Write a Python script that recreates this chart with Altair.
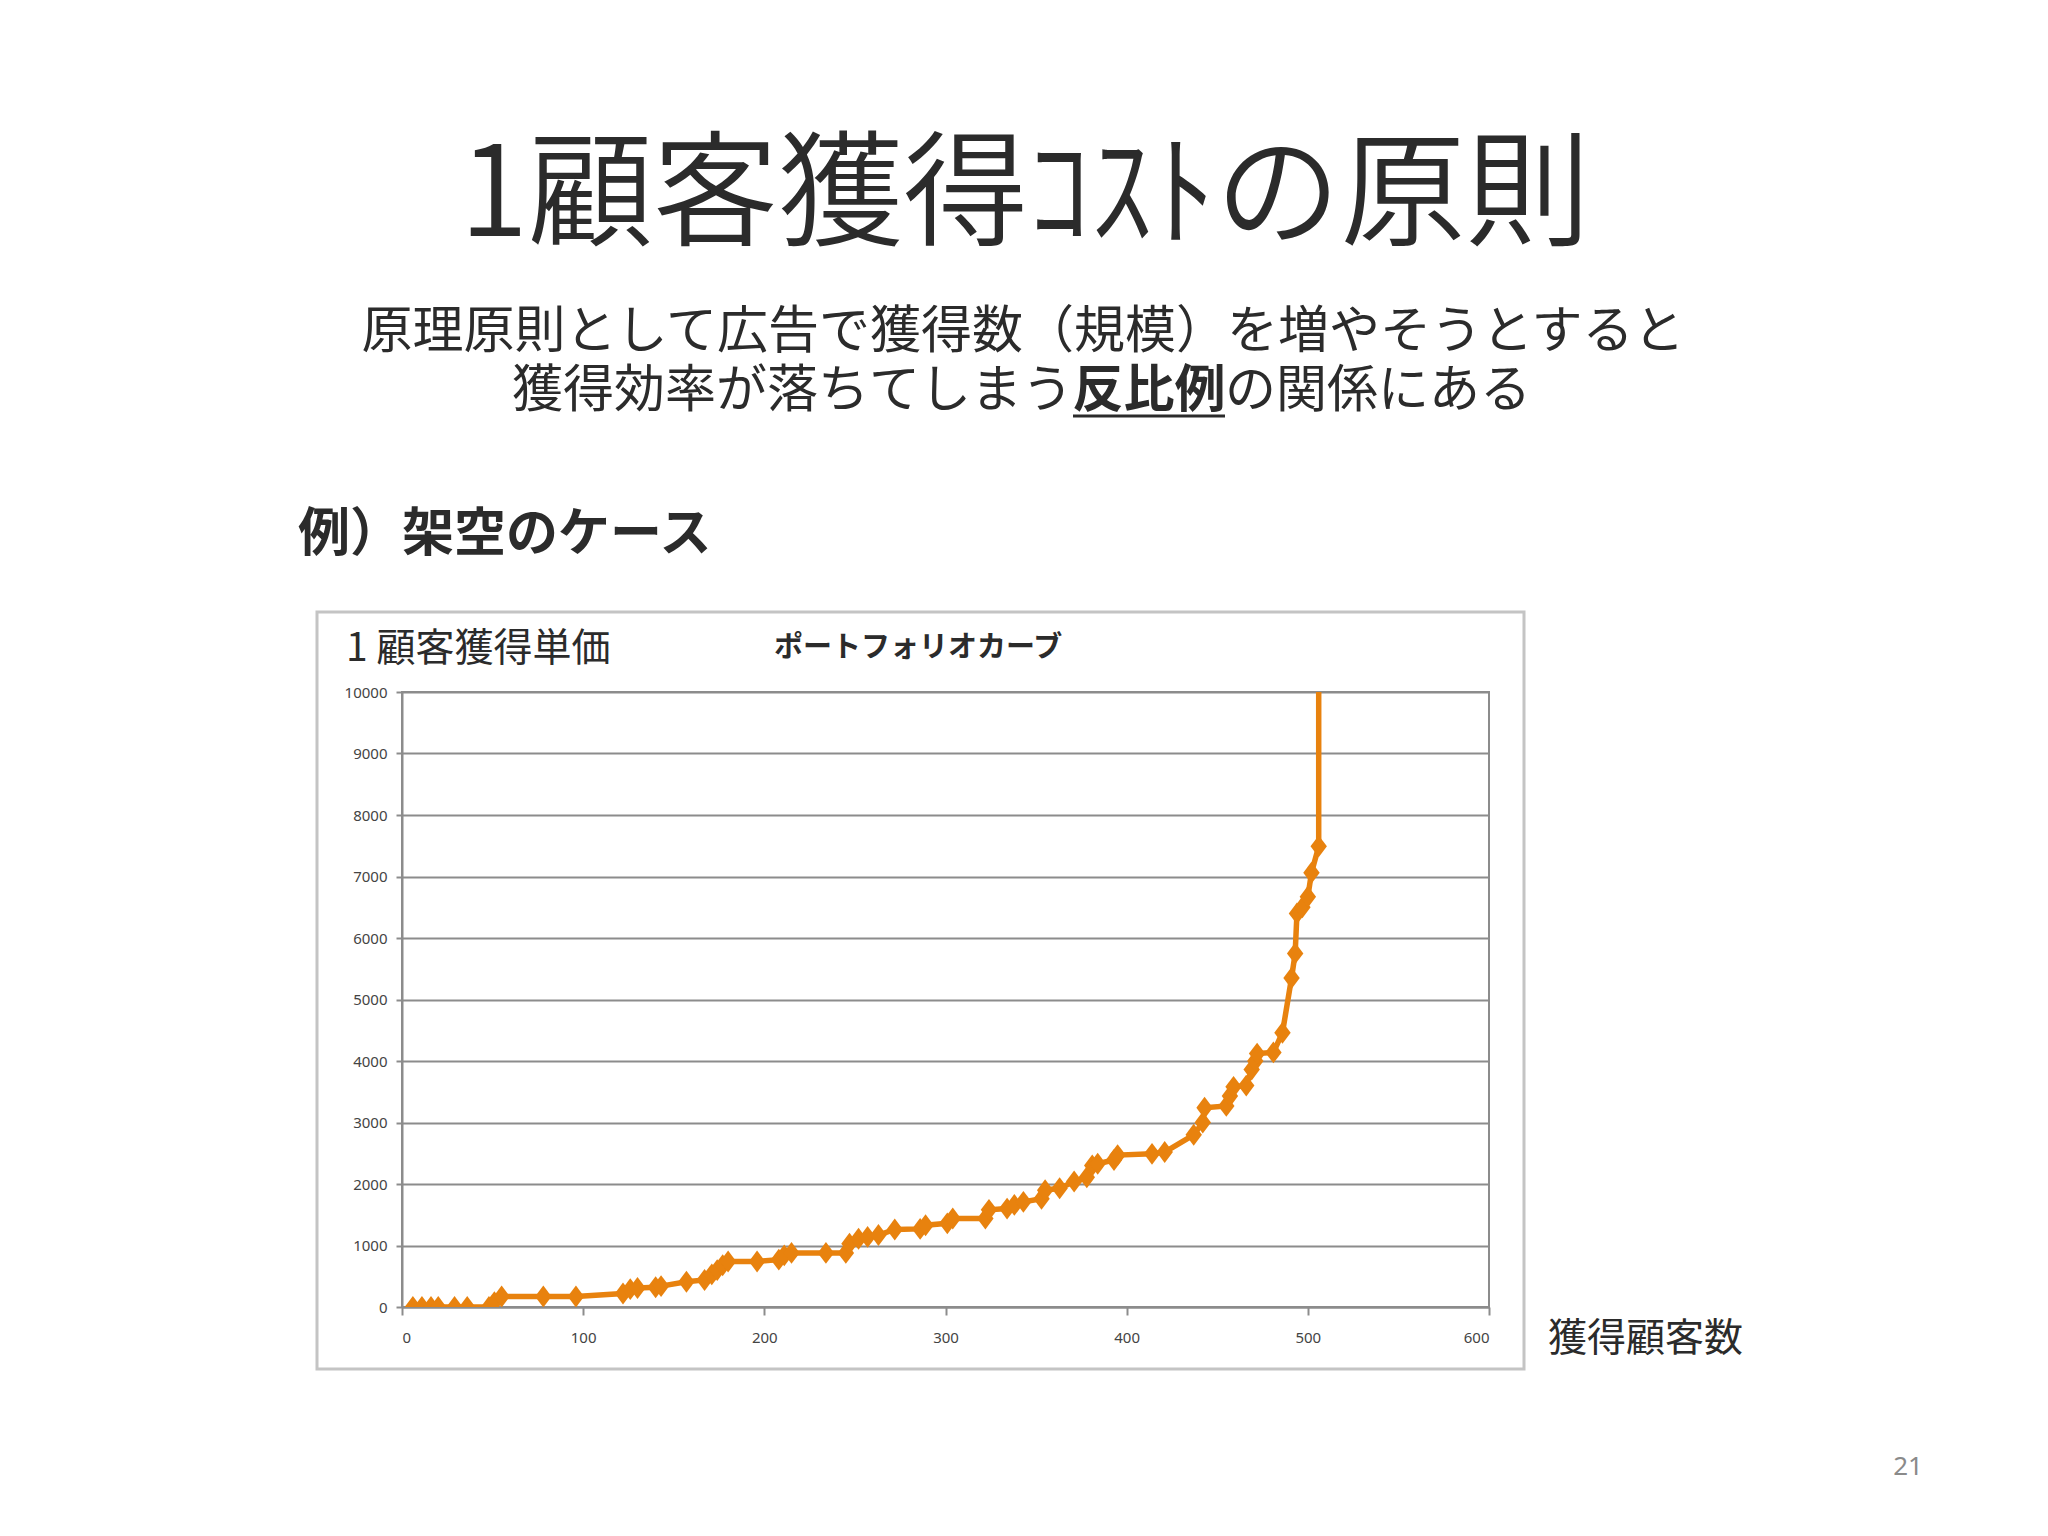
import altair as alt
import pandas as pd

# 獲得顧客数 (x) と 1顧客獲得単価 (y)
customers = [6, 11, 16, 20, 29, 36, 48, 51, 55, 78, 96, 122, 126, 130, 140, 143,
             157, 167, 171, 174, 177, 180, 196, 208, 211, 215, 234, 245, 247, 252,
             257, 263, 272, 286, 289, 301, 304, 322, 324, 334, 338, 343, 353, 355,
             363, 371, 378, 381, 384, 393, 395, 414, 421, 437, 442, 443, 455, 457,
             459, 466, 469, 471, 472, 481, 486, 491, 493, 494, 497, 500, 502, 506, 506]
unit_cost = [0, 0, 0, 0, 0, 0, 0, 80, 170, 170, 170, 220, 290, 310, 320, 340,
             410, 440, 530, 600, 680, 740, 740, 770, 840, 880, 880, 880, 1030, 1110,
             1140, 1170, 1260, 1270, 1330, 1360, 1440, 1440, 1580, 1600, 1660, 1710, 1760, 1900,
             1930, 2040, 2110, 2300, 2330, 2390, 2470, 2490, 2520, 2800, 3000, 3240, 3270, 3430,
             3580, 3600, 3860, 4000, 4120, 4140, 4460, 5350, 5750, 6400, 6500, 6670, 7060, 7490, 20000]

x_ticks = [0, 100, 200, 300, 400, 500, 600]
y_ticks = [0, 1000, 2000, 3000, 4000, 5000, 6000, 7000, 8000, 9000, 10000]

title = "1顧客獲得ｺｽﾄの原則"
sub1 = "原理原則として広告で獲得数（規模）を増やそうとすると"
sub2a = "獲得効率が落ちてしまう"
sub2b = "反比例"
sub2c = "の関係にある"
example = "例）架空のケース"
y_label = "1 顧客獲得単価"
chart_title = "ポートフォリオカーブ"
x_label = "獲得顧客数"
page_no = "21"

df = pd.DataFrame({"i": list(range(len(customers))), "x": customers, "y": unit_cost})

ORANGE = "#E8820E"
JP = "Noto Sans CJK JP"
JP_DEMI = "'Noto Sans CJK JP DemiLight', 'Noto Sans CJK JP'"
W, H = 1087, 615

base = alt.Chart(df).encode(
    x=alt.X("x:Q", scale=alt.Scale(domain=[0, 600], nice=False),
            axis=alt.Axis(values=x_ticks, format="d", title=None, grid=False, tickSize=8,
                          labelPadding=15, labelFontSize=15, labelColor="#444",
                          labelFont="Noto Sans", domainColor="#8c8c8c", domainWidth=2,
                          tickColor="#8c8c8c", tickWidth=2)),
    y=alt.Y("y:Q", scale=alt.Scale(domain=[0, 10000], nice=False),
            axis=alt.Axis(values=y_ticks, format="d", title=None, grid=True,
                          gridColor="#8c8c8c", gridWidth=2, tickSize=6, labelPadding=9,
                          labelFontSize=15, labelColor="#444", labelFont="Noto Sans",
                          domainColor="#8c8c8c", domainWidth=2, tickColor="#8c8c8c",
                          tickWidth=2)),
    order=alt.Order("i:Q"),
)

line = base.mark_line(color=ORANGE, strokeWidth=5.5, clip=True)
pts = base.mark_point(shape="M0,-1L0.75,0L0,1L-0.75,0Z", filled=True, color=ORANGE,
                      opacity=1, size=480, clip=True)


def txt(text, x, y, size, weight="normal", align="center", color="#2b2b2b", font=JP):
    return alt.Chart(pd.DataFrame({"t": [text]})).mark_text(
        font=font, fontSize=size, fontWeight=weight, align=align, baseline="middle",
        color=color
    ).encode(text="t:N", x=alt.value(x), y=alt.value(y))


frame = alt.Chart(pd.DataFrame({"a": [0]})).mark_rect(
    fill="transparent", stroke="#c4c4c4", strokeWidth=3
).encode(x=alt.value(-85), x2=alt.value(1122), y=alt.value(-80), y2=alt.value(677))

underline = alt.Chart(pd.DataFrame({"a": [0]})).mark_rule(
    color="#2b2b2b", strokeWidth=3
).encode(x=alt.value(671), x2=alt.value(823), y=alt.value(-276))

layers = [
    frame,
    line,
    pts,
    txt(title, 623, -494, 125, font=JP_DEMI),
    txt(sub1, 621, -359, 51),
    txt(sub2a, 671, -300, 51, align="right"),
    txt(sub2b, 747, -300, 51, weight="bold"),
    txt(sub2c, 823, -300, 51, align="left"),
    underline,
    txt(example, -104, -157, 52, weight="bold", align="left"),
    txt(y_label, -56, -43, 39, align="left"),
    txt(chart_title, 516, -44, 29, weight="bold"),
    txt(x_label, 1146, 647, 39, align="left"),
    txt(page_no, 1506, 775, 26, color="#8a8a8a", font="Noto Sans"),
]

chart = alt.layer(*layers).properties(
    width=W, height=H,
    autosize=alt.AutoSizeParams(type="none"),
    padding={"left": 394, "top": 684, "right": 551, "bottom": 221},
    background="white",
).configure_view(stroke="#8c8c8c", strokeWidth=2)

chart.save("out.html", embed_options={"renderer": "svg", "actions": False})
